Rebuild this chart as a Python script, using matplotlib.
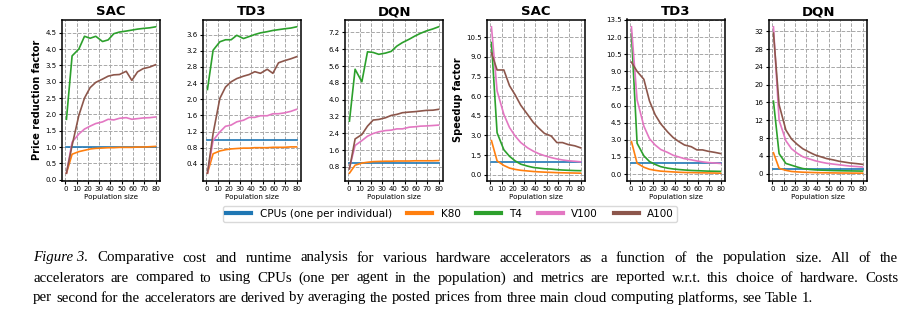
import numpy as np
import matplotlib
matplotlib.use("Agg")
import matplotlib.pyplot as plt
from matplotlib.lines import Line2D

# Population sizes evaluated
pop_size = [1, 6, 12, 17, 22, 27, 33, 38, 43, 48, 54, 59, 64, 69, 75, 80]

hardware = ["CPUs (one per individual)", "K80", "T4", "V100", "A100"]
colors = ["#1f77b4", "#ff7f0e", "#2ca02c", "#e377c2", "#8c564b"]
algos = ["SAC", "TD3", "DQN"]

# Price reduction factor w.r.t. CPUs
price_sac_cpu = [1.0] * 16
price_sac_k80 = [0.2, 0.78, 0.86, 0.9, 0.94, 0.96, 0.97, 0.98, 0.98, 0.99, 0.99, 0.99, 1.0, 1.0, 1.01, 1.02]
price_sac_t4 = [1.85, 3.79, 4.0, 4.39, 4.33, 4.39, 4.23, 4.28, 4.47, 4.52, 4.55, 4.58, 4.61, 4.63, 4.65, 4.68]
price_sac_v100 = [0.2, 1.15, 1.4, 1.55, 1.64, 1.72, 1.77, 1.85, 1.83, 1.88, 1.9, 1.85, 1.87, 1.89, 1.9, 1.92]
price_sac_a100 = [0.2, 1.05, 1.97, 2.5, 2.82, 2.98, 3.08, 3.17, 3.21, 3.22, 3.32, 3.04, 3.3, 3.4, 3.45, 3.52]

price_td3_cpu = [1.0] * 16
price_td3_k80 = [0.17, 0.65, 0.72, 0.75, 0.77, 0.78, 0.79, 0.79, 0.8, 0.8, 0.8, 0.81, 0.81, 0.81, 0.82, 0.82]
price_td3_t4 = [2.24, 3.21, 3.42, 3.47, 3.47, 3.58, 3.5, 3.55, 3.6, 3.64, 3.67, 3.7, 3.72, 3.74, 3.76, 3.79]
price_td3_v100 = [0.17, 0.98, 1.19, 1.33, 1.36, 1.44, 1.48, 1.55, 1.55, 1.59, 1.59, 1.64, 1.64, 1.66, 1.7, 1.75]
price_td3_a100 = [0.17, 1.15, 2.02, 2.3, 2.43, 2.51, 2.57, 2.61, 2.68, 2.64, 2.74, 2.64, 2.9, 2.95, 3.0, 3.05]

price_dqn_cpu = [1.0] * 16
price_dqn_k80 = [0.5, 0.88, 0.98, 1.02, 1.05, 1.06, 1.07, 1.07, 1.08, 1.08, 1.08, 1.09, 1.09, 1.09, 1.09, 1.1]
price_dqn_t4 = [2.98, 5.45, 4.85, 6.28, 6.25, 6.16, 6.22, 6.3, 6.55, 6.72, 6.88, 7.03, 7.16, 7.27, 7.37, 7.47]
price_dqn_v100 = [0.75, 1.82, 2.05, 2.26, 2.39, 2.47, 2.53, 2.55, 2.61, 2.61, 2.69, 2.71, 2.74, 2.75, 2.77, 2.79]
price_dqn_a100 = [0.7, 2.13, 2.34, 2.74, 3.03, 3.06, 3.14, 3.25, 3.3, 3.38, 3.41, 3.43, 3.46, 3.49, 3.5, 3.54]

# Speedup factor w.r.t. CPUs
speed_sac_cpu = [1.0] * 16
speed_sac_k80 = [2.6, 1.05, 0.7, 0.5, 0.4, 0.33, 0.28, 0.24, 0.21, 0.19, 0.17, 0.15, 0.14, 0.13, 0.12, 0.11]
speed_sac_t4 = [10.1, 3.2, 1.9, 1.4, 1.05, 0.8, 0.65, 0.55, 0.5, 0.45, 0.42, 0.38, 0.35, 0.33, 0.31, 0.3]
speed_sac_v100 = [11.3, 6.4, 4.6, 3.6, 2.95, 2.45, 2.05, 1.8, 1.6, 1.45, 1.3, 1.2, 1.12, 1.06, 1.02, 0.98]
speed_sac_a100 = [9.3, 8.0, 8.0, 6.8, 6.1, 5.3, 4.6, 4.0, 3.55, 3.15, 2.95, 2.45, 2.45, 2.3, 2.2, 2.05]

speed_td3_cpu = [1.0] * 16
speed_td3_k80 = [2.85, 0.95, 0.6, 0.42, 0.33, 0.26, 0.22, 0.19, 0.16, 0.14, 0.13, 0.12, 0.11, 0.1, 0.09, 0.08]
speed_td3_t4 = [12.3, 2.7, 1.6, 1.1, 0.85, 0.65, 0.52, 0.45, 0.4, 0.36, 0.32, 0.3, 0.28, 0.26, 0.25, 0.24]
speed_td3_v100 = [12.9, 6.5, 4.2, 3.1, 2.55, 2.15, 1.9, 1.65, 1.5, 1.35, 1.25, 1.15, 1.07, 1.01, 0.97, 0.93]
speed_td3_a100 = [9.8, 9.0, 8.3, 6.4, 5.2, 4.4, 3.7, 3.2, 2.85, 2.55, 2.4, 2.12, 2.12, 2.0, 1.9, 1.8]

speed_dqn_cpu = [1.0] * 16
speed_dqn_k80 = [4.7, 1.2, 0.75, 0.5, 0.4, 0.33, 0.28, 0.24, 0.21, 0.19, 0.17, 0.15, 0.14, 0.13, 0.12, 0.11]
speed_dqn_t4 = [16.3, 4.5, 2.3, 1.9, 1.5, 1.15, 0.95, 0.85, 0.8, 0.75, 0.7, 0.67, 0.64, 0.62, 0.6, 0.58]
speed_dqn_v100 = [33.0, 12.0, 7.4, 5.6, 4.6, 3.8, 3.3, 2.9, 2.6, 2.35, 2.15, 2.0, 1.85, 1.7, 1.6, 1.5]
speed_dqn_a100 = [31.6, 15.5, 9.8, 7.8, 6.6, 5.6, 4.8, 4.2, 3.8, 3.4, 3.1, 2.8, 2.6, 2.4, 2.25, 2.1]

price_data = [
    [price_sac_cpu, price_sac_k80, price_sac_t4, price_sac_v100, price_sac_a100],
    [price_td3_cpu, price_td3_k80, price_td3_t4, price_td3_v100, price_td3_a100],
    [price_dqn_cpu, price_dqn_k80, price_dqn_t4, price_dqn_v100, price_dqn_a100],
]
speed_data = [
    [speed_sac_cpu, speed_sac_k80, speed_sac_t4, speed_sac_v100, speed_sac_a100],
    [speed_td3_cpu, speed_td3_k80, speed_td3_t4, speed_td3_v100, speed_td3_a100],
    [speed_dqn_cpu, speed_dqn_k80, speed_dqn_t4, speed_dqn_v100, speed_dqn_a100],
]
price_ticks = [np.arange(0, 4.51, 0.5), np.arange(0.4, 3.61, 0.4), np.arange(0.8, 7.21, 0.8)]
speed_ticks = [np.arange(0, 10.51, 1.5), np.arange(0, 13.51, 1.5), np.arange(0, 32.1, 4)]

W, H = 913, 325
fig = plt.figure(figsize=(W / 100, H / 100), dpi=100)

lefts = [62, 203, 345, 487, 627, 769]
ax_w, top, bottom = 98, 19.5, 180.5


def make_axes(i):
    return fig.add_axes([lefts[i] / W, 1 - bottom / H, ax_w / W, (bottom - top) / H])


def style(ax, title, yticks):
    ax.set_title(title, fontsize=9.5, fontweight="bold", pad=3)
    ax.set_xticks(range(0, 81, 10))
    ax.set_yticks(yticks)
    ax.yaxis.set_major_formatter(matplotlib.ticker.FormatStrFormatter("%.1f")
                                 if any(abs(t - round(t)) > 1e-9 for t in yticks)
                                 else matplotlib.ticker.FormatStrFormatter("%d"))
    ax.tick_params(labelsize=5, length=2.5, width=0.8, pad=1.5)
    ax.grid(True, linestyle="--", color="#a8a8a8", linewidth=0.7)
    ax.set_axisbelow(True)
    for s in ax.spines.values():
        s.set_linewidth(1.1)
    ax.set_xlabel("Population size", fontsize=5.2, labelpad=1.5)


for i in range(3):
    ax = make_axes(i)
    for series, c in zip(price_data[i], colors):
        ax.plot(pop_size, series, color=c, linewidth=1.2)
    style(ax, algos[i], price_ticks[i])
    if i == 0:
        ax.set_ylabel("Price reduction factor", fontsize=7, fontweight="bold", labelpad=2)

for i in range(3):
    ax = make_axes(i + 3)
    for series, c in zip(speed_data[i], colors):
        ax.plot(pop_size, series, color=c, linewidth=1.2)
    style(ax, algos[i], speed_ticks[i])
    if i == 0:
        ax.set_ylabel("Speedup factor", fontsize=7, fontweight="bold", labelpad=2)

handles = [Line2D([], [], color=c, linewidth=3) for c in colors]
fig.legend(handles, hardware, loc="center", bbox_to_anchor=(450 / W, 1 - 214 / H),
           ncol=5, fontsize=7.5, handlelength=2.4, columnspacing=1.5,
           handletextpad=0.8, borderpad=0.3, frameon=True, edgecolor="#d0d0d0")

# Caption, set as justified lines of serif text
caption_lines = [
    [("Figure 3.", "italic")] + [(w, "normal") for w in
     "Comparative cost and runtime analysis for various hardware accelerators as a function of the population size.  All of the".split(" ")],
    [(w, "normal") for w in
     "accelerators are compared to using CPUs (one per agent in the population) and metrics are reported w.r.t. this choice of hardware. Costs".split(" ")],
    [(w, "normal") for w in
     "per second for the accelerators are derived by averaging the posted prices from three main cloud computing platforms, see Table 1.".split(" ")],
]
caption_lines = [[(w, st) for w, st in ln if w != ""] for ln in caption_lines]
cap_x0, cap_x1 = 33, 898
cap_y = [258, 278, 298]
renderer = fig.canvas.get_renderer()


def text_width(s, fs, st="normal"):
    t = fig.text(0, 0, s, fontsize=fs, family="Liberation Serif", style=st)
    w = t.get_window_extent(renderer).width
    t.remove()
    return w


def natural_width(words, fs):
    sp = text_width("a a", fs) - text_width("aa", fs)
    return sum(text_width(w, fs, st) for w, st in words) + sp * (len(words) - 1)


# size the caption so the justified lines open their word spaces moderately
ref_fs = 10.0
widest = max(natural_width(ln, ref_fs) for ln in caption_lines[:2])
cap_fs = ref_fs * 0.93 * (cap_x1 - cap_x0) / widest

sp = text_width("a a", cap_fs) - text_width("aa", cap_fs)
for li, words in enumerate(caption_lines):
    texts, widths = [], []
    for w, st in words:
        t = fig.text(0, 0, w, fontsize=cap_fs, family="Liberation Serif", style=st,
                     va="center", ha="left")
        texts.append(t)
        widths.append(t.get_window_extent(renderer).width)
    if li < len(caption_lines) - 1:
        gap = (cap_x1 - cap_x0 - sum(widths)) / (len(words) - 1)
    else:
        gap = sp
    x = cap_x0
    for t, wd in zip(texts, widths):
        t.set_position((x / W, 1 - cap_y[li] / H))
        x += wd + gap

fig.savefig("out.png", dpi=100)
